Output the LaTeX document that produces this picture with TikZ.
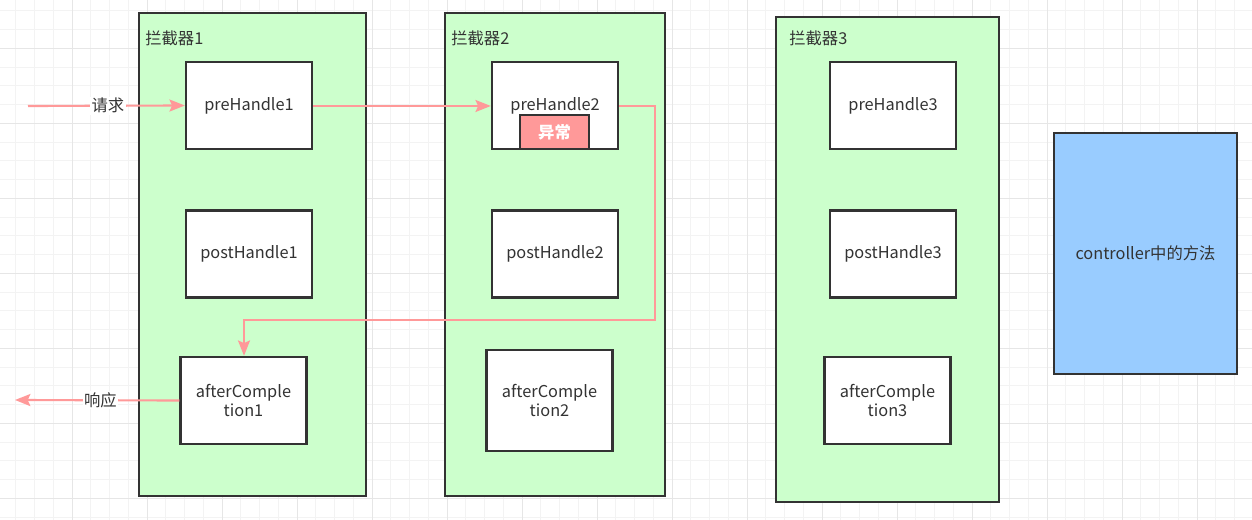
\documentclass[tikz,border=0pt]{standalone}
\usepackage{fontspec}
\setmainfont{Noto Sans CJK SC}
\usetikzlibrary{arrows.meta}
\definecolor{gridminor}{HTML}{F3F3F3}
\definecolor{gridmajor}{HTML}{E6E6E6}
\definecolor{edge}{HTML}{333333}
\definecolor{txt}{HTML}{333333}
\definecolor{groupfill}{HTML}{CCFFCC}
\definecolor{flow}{HTML}{FF9999}
\definecolor{ctrlfill}{HTML}{99CCFF}
\begin{document}
\begin{tikzpicture}[x=0.75pt,y=-0.75pt,
  font=\fontsize{12.25pt}{14.5pt}\selectfont,
  group/.style={draw=edge,line width=1.8pt,fill=groupfill},
  handler/.style={draw=edge,line width=1.8pt,fill=white,rectangle,inner sep=0pt,
    text=txt,align=center,minimum width=94.5pt,minimum height=65.25pt},
  grouplabel/.style={anchor=west,text=txt,inner sep=0pt},
  flowline/.style={draw=flow,line width=1.6pt},
  flowarrow/.style={flowline,-{Stealth[length=11.5pt,width=9pt,inset=2pt]}},
  flowlabel/.style={fill=white,text=txt,inner sep=1pt}]
% canvas and background grid
\useasboundingbox (0,0) rectangle (1252,520);
\fill[white] (0,0) rectangle (1252,520);
\foreach \i in {0,...,67}{
  \pgfmathsetmacro{\gx}{-3+18.75*\i}
  \draw[gridminor,line width=0.75pt] (\gx,0) -- (\gx,520);}
\foreach \j in {0,...,30}{
  \pgfmathsetmacro{\gy}{-26.7+18.75*\j}
  \draw[gridminor,line width=0.75pt] (0,\gy) -- (1252,\gy);}
\foreach \i in {0,...,17}{
  \pgfmathsetmacro{\gx}{-3+75*\i}
  \draw[gridmajor,line width=0.75pt] (\gx,0) -- (\gx,520);}
\foreach \j in {0,...,8}{
  \pgfmathsetmacro{\gy}{-26.7+75*\j}
  \draw[gridmajor,line width=0.75pt] (0,\gy) -- (1252,\gy);}
% interceptor groups
\draw[group] (139,13) rectangle (366,496);
\node[grouplabel] (g1) at (145,38) {拦截器1};
\draw[group] (445,13) rectangle (665,496);
\node[grouplabel] (g2) at (451,38) {拦截器2};
\draw[group] (776,17) rectangle (999,502);
\node[grouplabel] (g3) at (789,38) {拦截器3};
% handler boxes
\node[handler] (pre1) at (249,105.5) {preHandle1};
\node[handler] (post1) at (249,254) {postHandle1};
\node[handler] (after1) at (243.5,400.5) {afterComple\\tion1};
\node[handler] (pre2) at (555,105.5) {\raisebox{1pt}{preHandle2}};
\node[draw=edge,line width=1.8pt,fill=flow,text=white,minimum width=51.75pt,
  minimum height=25.5pt,inner sep=0pt,font=\fontsize{12.25pt}{14.5pt}\selectfont\bfseries]
  (exc) at (554.5,132) {异常};
\node[handler] (post2) at (555,254) {postHandle2};
\node[handler,minimum height=75.75pt] (after2) at (549.5,400.5) {afterComple\\tion2};
\node[handler] (pre3) at (893,105.5) {preHandle3};
\node[handler] (post3) at (893,254) {postHandle3};
\node[handler] (after3) at (887.5,400.5) {afterComple\\tion3};
% controller
\node[draw=edge,line width=1.8pt,fill=ctrlfill,text=txt,minimum width=137.25pt,
  minimum height=180.75pt,inner sep=0pt] (ctrl) at (1145.5,253.5) {controller中的方法};
% request / response flow
\coordinate (req) at (28,106);
\coordinate (resp) at (15,400);
\coordinate (c1) at (655,106);
\coordinate (c2) at (655,320);
\coordinate (c3) at (244,320);
\draw[flowarrow] (req) -- (pre1.west) node[flowlabel,pos=0.51] (lreq) {请求};
\draw[flowarrow] (pre1.east |- 0,106) -- (pre2.west |- 0,106);
\draw[flowarrow] (pre2.east |- 0,106) -- (c1) -- (c2) -- (c3) -- (after1.north -| c3);
\draw[flowarrow] (after1.west) -- (resp) node[flowlabel,pos=0.48] (lresp) {响应};
\end{tikzpicture}
\end{document}
